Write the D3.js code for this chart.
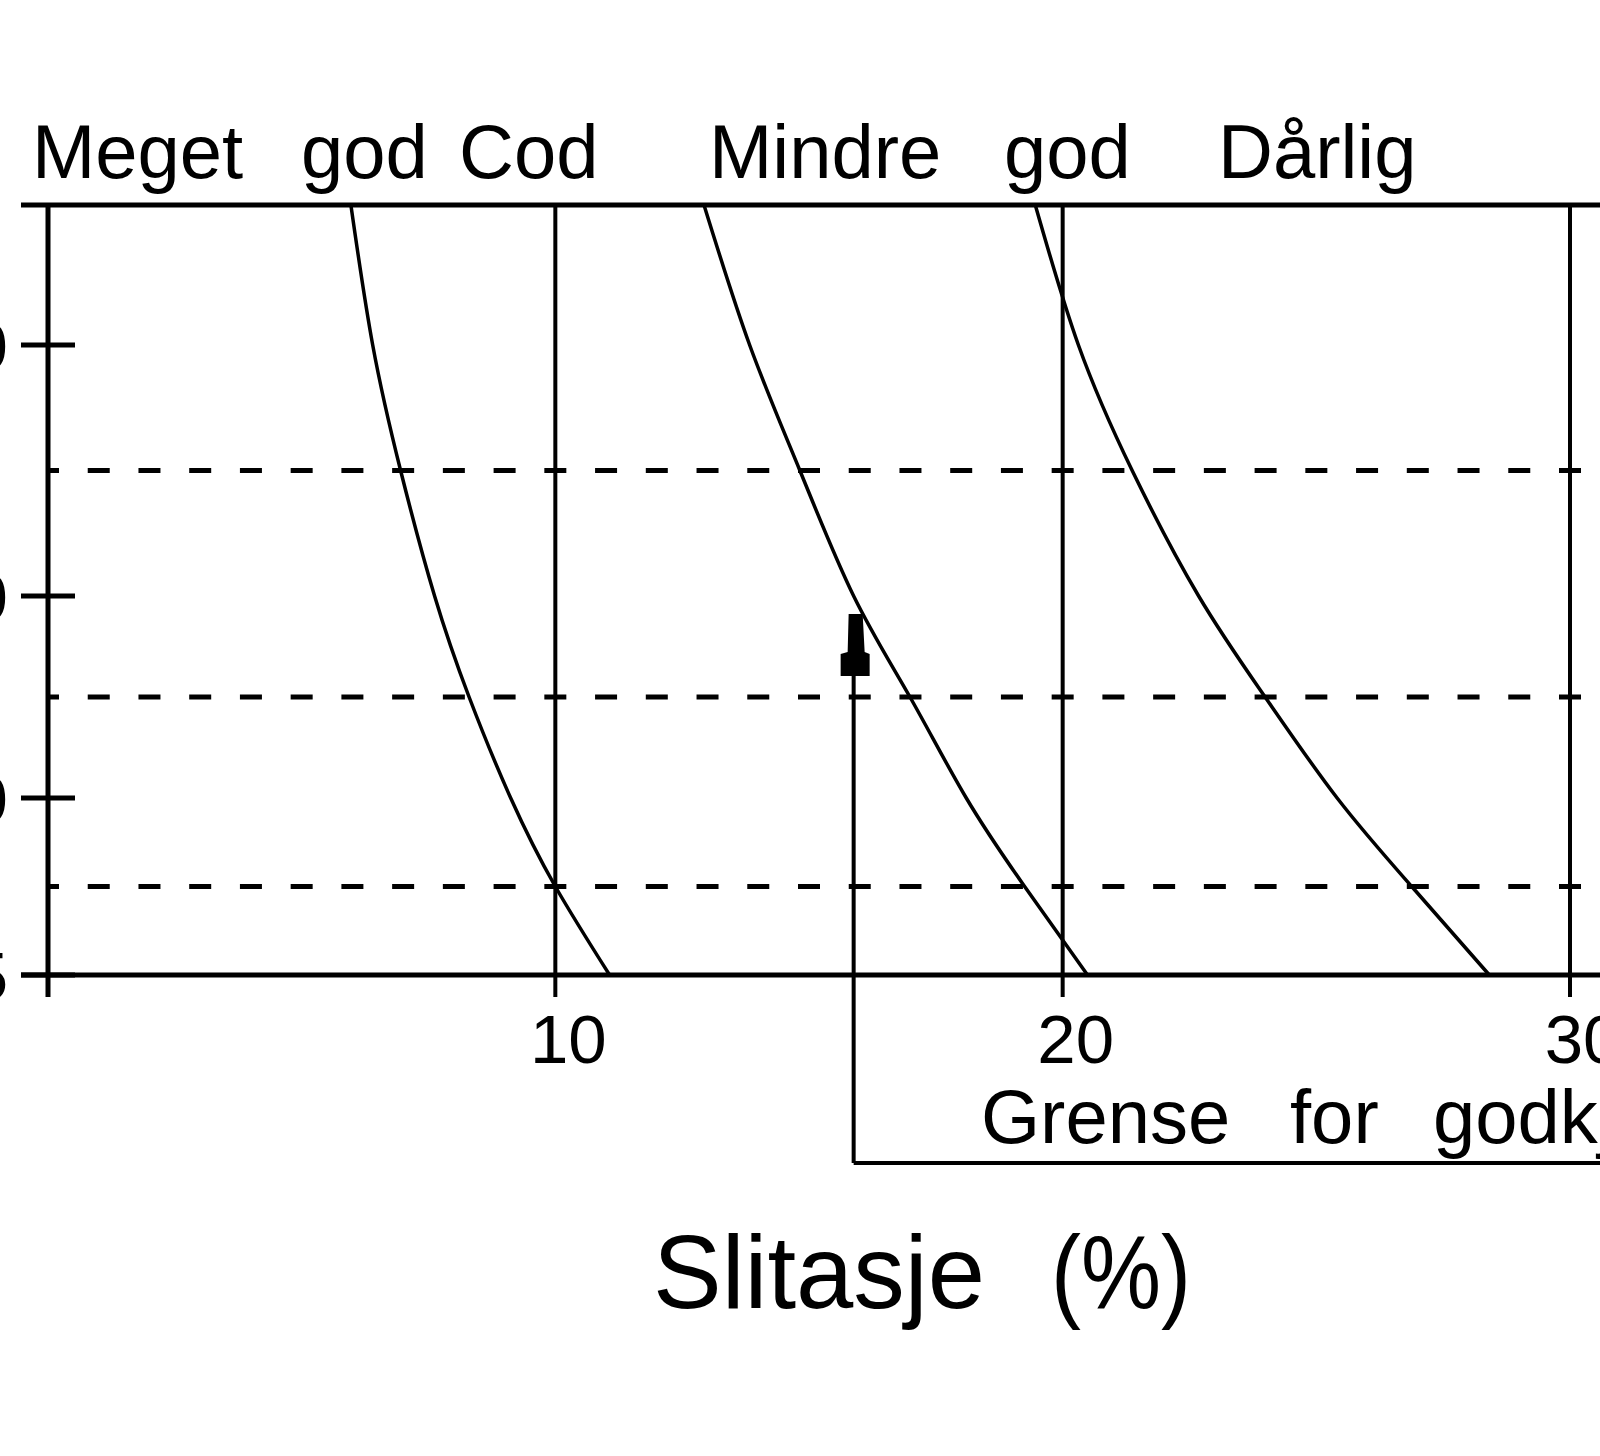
<!DOCTYPE html>
<html>
<head>
<meta charset="utf-8">
<script src="https://cdn.jsdelivr.net/npm/d3@7"></script>
<style>
  html, body { margin: 0; padding: 0; background: #fff; }
  svg { display: block; }
  text { font-family: "Liberation Sans", Arial, sans-serif; fill: #000; }
</style>
</head>
<body>
<div class="visHolder"></div>
<script>
const width = 1600,
  height = 1456;

// x: wear in percent
const xTicks = [10, 20, 30];
const xGrid = [0, 10, 20, 30];
// y: labels are cut off at the left edge of the scan, only the last digit shows
const yTicks = [5, 10, 20, 50];
const yTop = 80;
const yDashed = [35, 15, 7.5];

// boundaries between the classes, read at each reference level
const levels = [80, 50, 35, 20, 15, 10, 7.5, 5];
const boundA = [5.97, 6.4, 6.95, 7.62, 8.3, 9.12, 10.0, 11.07];
const boundB = [12.93, 13.83, 14.82, 15.88, 16.99, 18.1, 19.25, 20.49];
const boundC = [19.46, 20.31, 21.37, 22.68, 23.99, 25.41, 26.88, 28.41];

const classNames = [
  ["Meget", 32],
  ["god", 301],
  ["Cod", 459],
  ["Mindre", 709],
  ["god", 1004],
  ["Dårlig", 1218],
];

const limitValue = 15.88;
const limitLevel = 20;
const limitLabel = ["Grense", "for", "godkjenning"];

const svg = d3
  .select(".visHolder")
  .append("svg")
  .attr("width", width)
  .attr("height", height);

svg.append("rect").attr("width", width).attr("height", height).attr("fill", "#fff");

const xScale = d3.scaleLinear().domain([0, 30]).range([48, 1570]);
// the y axis is not evenly divided
const yScale = d3
  .scaleLinear()
  .domain([yTicks[0], yTicks[1], yTicks[2], yTicks[3], yTop])
  .range([975, 798, 596, 345, 205]);

const xMax = xScale.invert(width);
const unit = xScale(1) - xScale(0);
const dashLen = 22;
const tickBottom = yScale(yTicks[0]) + 22;

// dashed reference levels, a dash on every whole percent
svg
  .selectAll(".dashed")
  .data(yDashed)
  .enter()
  .append("line")
  .attr("x1", xScale(0))
  .attr("x2", xScale(xMax))
  .attr("y1", (d) => yScale(d))
  .attr("y2", (d) => yScale(d))
  .style("stroke", "#000")
  .style("stroke-width", 5)
  .style("stroke-dasharray", dashLen + "," + (unit - dashLen))
  .style("stroke-dashoffset", dashLen / 2);

// vertical lines
svg
  .selectAll(".vline")
  .data(xGrid)
  .enter()
  .append("line")
  .attr("x1", (d) => xScale(d))
  .attr("x2", (d) => xScale(d))
  .attr("y1", yScale(yTop))
  .attr("y2", tickBottom)
  .style("stroke", "#000")
  .style("stroke-width", (d) => (d === 0 ? 5 : 4));

// top and bottom frame
svg
  .selectAll(".hline")
  .data([yTop, yTicks[0]])
  .enter()
  .append("line")
  .attr("x1", 21)
  .attr("x2", width)
  .attr("y1", (d) => yScale(d))
  .attr("y2", (d) => yScale(d))
  .style("stroke", "#000")
  .style("stroke-width", 5);

// y ticks
svg
  .selectAll(".ytick")
  .data(yTicks)
  .enter()
  .append("line")
  .attr("x1", 21)
  .attr("x2", 75)
  .attr("y1", (d) => yScale(d))
  .attr("y2", (d) => yScale(d))
  .style("stroke", "#000")
  .style("stroke-width", 5);

svg
  .selectAll(".ylabel")
  .data(yTicks)
  .enter()
  .append("text")
  .attr("x", 8)
  .attr("y", (d) => yScale(d) + 25)
  .attr("text-anchor", "end")
  .style("font-size", "69px")
  .text((d) => d);

// x tick labels
svg
  .selectAll(".xlabel")
  .data(xTicks)
  .enter()
  .append("text")
  .attr("x", (d) => xScale(d) + 13)
  .attr("y", 1063)
  .attr("text-anchor", "middle")
  .style("font-size", "69px")
  .text((d) => d);

// class boundaries
const line = d3
  .line()
  .x((d) => xScale(d[0]))
  .y((d) => yScale(d[1]))
  .curve(d3.curveNatural);

[boundA, boundB, boundC].forEach((b) => {
  svg
    .append("path")
    .attr("d", line(b.map((v, i) => [v, levels[i]])))
    .style("fill", "none")
    .style("stroke", "#000")
    .style("stroke-width", 3.5);
});

// class names above the frame
svg
  .selectAll(".classname")
  .data(classNames)
  .enter()
  .append("text")
  .attr("x", (d) => d[1])
  .attr("y", 178)
  .style("font-size", "76px")
  .text((d) => d[0]);

// limit for approval: arrow up to the boundary and bracket below the axis
const lx = xScale(limitValue);
const ly = yScale(limitLevel) + 18;
const bracketY = 1163;

svg
  .append("path")
  .attr(
    "d",
    d3.line()([
      [lx, bracketY],
      [lx, ly + 60],
    ]) +
      d3.line()([
        [lx, bracketY],
        [width, bracketY],
      ])
  )
  .style("fill", "none")
  .style("stroke", "#000")
  .style("stroke-width", 4);

svg
  .append("path")
  .attr(
    "d",
    d3.line()([
      [lx - 5, ly],
      [lx + 9, ly],
      [lx + 11, ly + 38],
      [lx + 16, ly + 40],
      [lx + 16, ly + 62],
      [lx - 13, ly + 62],
      [lx - 13, ly + 40],
      [lx - 6, ly + 38],
    ]) + "Z"
  )
  .style("fill", "#000");

const limitText = svg
  .append("text")
  .attr("y", 1143)
  .style("font-size", "76px");

limitText
  .selectAll("tspan")
  .data(limitLabel)
  .enter()
  .append("tspan")
  .attr("x", (d, i) => [981, 1290, 1433][i])
  .text((d) => d);

// axis title
const title = svg.append("text").attr("y", 1308).style("font-size", "103px");
title.append("tspan").attr("x", 653).text("Slitasje");
title
  .append("tspan")
  .attr("x", 1051)
  .attr("textLength", 140)
  .attr("lengthAdjust", "spacingAndGlyphs")
  .text("(%)");
</script>
</body>
</html>
